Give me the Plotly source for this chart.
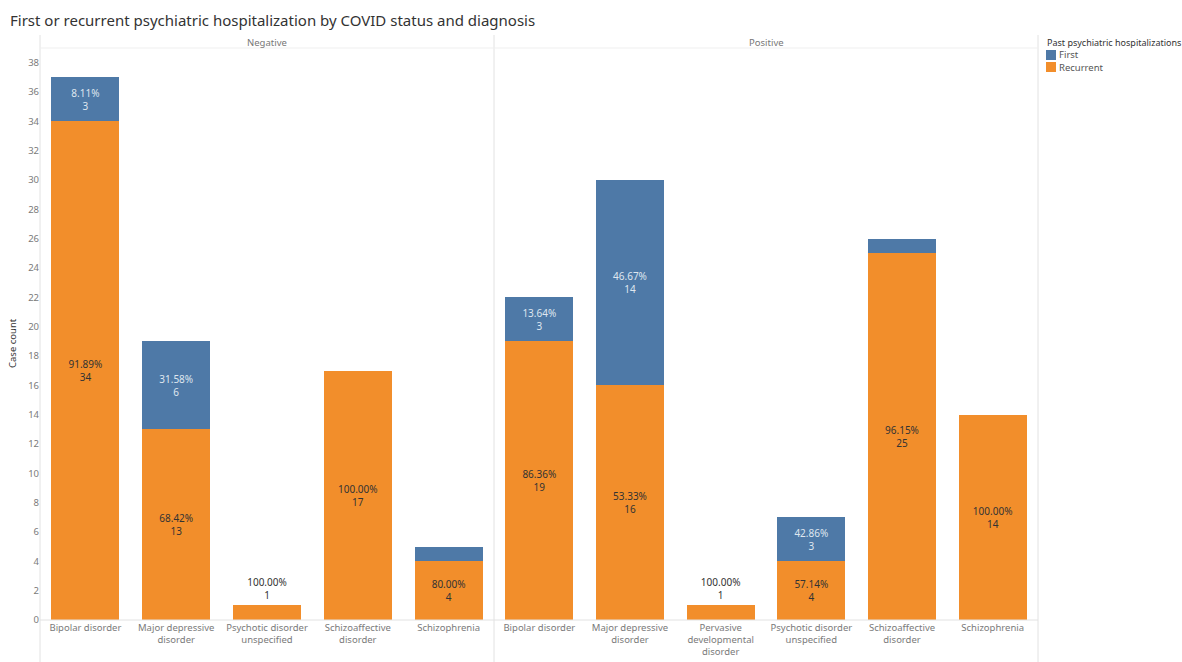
import plotly.graph_objects as go

# ---- data ----
neg_categories = ["Bipolar disorder", "Major depressive disorder", "Psychotic disorder unspecified",
                  "Schizoaffective disorder", "Schizophrenia"]
neg_ticklabels = ["Bipolar disorder", "Major depressive<br>disorder", "Psychotic disorder<br>unspecified",
                  "Schizoaffective<br>disorder", "Schizophrenia"]
neg_first = [3, 6, None, None, 1]
neg_recurrent = [34, 13, 1, 17, 4]

pos_categories = ["Bipolar disorder", "Major depressive disorder", "Pervasive developmental disorder",
                  "Psychotic disorder unspecified", "Schizoaffective disorder", "Schizophrenia"]
pos_ticklabels = ["Bipolar disorder", "Major depressive<br>disorder", "Pervasive<br>developmental<br>disorder",
                  "Psychotic disorder<br>unspecified", "Schizoaffective<br>disorder", "Schizophrenia"]
pos_first = [3, 14, None, 3, 1, None]
pos_recurrent = [19, 16, 1, 4, 25, 14]

panels = ["Negative", "Positive"]
legend_title = "Past psychiatric hospitalizations"
series_names = ["First", "Recurrent"]
y_ticks = list(range(0, 39, 2))

BLUE = "#4e79a7"
ORANGE = "#f28e2b"
FONT = "Noto Sans"

W, H = 1182, 662
L, R, T, B = 40, 144, 48, 42
PW = W - L - R
PH = H - T - B


def px_x(x):
    return (x - L) / PW


def px_y(y):
    return (H - B - y) / PH


def labels(vals, others, min_show=2):
    txt, pos = [], []
    for v, o in zip(vals, others):
        tot = (v or 0) + (o or 0)
        if not v:
            txt.append("")
            pos.append("none")
            continue
        pct = v / tot * 100
        if v >= min_show:
            txt.append(f"{pct:.2f}%<br>{v}")
            pos.append("inside")
        elif (o or 0) == 0:
            txt.append(f"{pct:.2f}%<br>{v}")
            pos.append("outside")
        else:
            txt.append("")
            pos.append("none")
    return txt, pos


fig = go.Figure()

for i, (cats, first, rec, xa) in enumerate([
        (neg_categories, neg_first, neg_recurrent, "x"),
        (pos_categories, pos_first, pos_recurrent, "x2")]):
    rt, rp = labels(rec, first)
    ft, fp = labels(first, rec)
    fig.add_trace(go.Bar(
        x=cats, y=rec, name=series_names[1], marker_color=ORANGE, marker_line_width=0,
        xaxis=xa, yaxis="y", showlegend=False,
        text=rt, textposition=rp, insidetextanchor="middle",
        textfont=dict(family=FONT, size=10, color="#333333"),
        outsidetextfont=dict(family=FONT, size=10, color="#333333"),
        constraintext="none", width=0.75, hoverinfo="skip"))
    fig.add_trace(go.Bar(
        x=cats, y=first, name=series_names[0], marker_color=BLUE, marker_line_width=0,
        xaxis=xa, yaxis="y", showlegend=False,
        text=ft, textposition=fp, insidetextanchor="middle",
        textfont=dict(family=FONT, size=10, color="#dfe6ef"),
        constraintext="none", width=0.75, hoverinfo="skip"))

split = px_x(494)

axis_common = dict(showgrid=False, zeroline=False, showline=False, ticks="", automargin=False,
                   tickfont=dict(family=FONT, size=9.5, color="#7a7a7a"), fixedrange=True)

fig.update_layout(
    width=W, height=H,
    margin=dict(l=L, r=R, t=T, b=B, autoexpand=False),
    paper_bgcolor="white", plot_bgcolor="white",
    barmode="stack",
    font=dict(family=FONT, color="#333333"),
    xaxis=dict(domain=[0, split], categoryorder="array", categoryarray=neg_categories,
               tickvals=neg_categories, ticktext=neg_ticklabels, **axis_common),
    xaxis2=dict(domain=[split, 1], categoryorder="array", categoryarray=pos_categories,
                tickvals=pos_categories, ticktext=pos_ticklabels, **axis_common),
    yaxis=dict(range=[0, 39], tickvals=y_ticks, **axis_common),
    showlegend=False,
)

# title
fig.add_annotation(text="First or recurrent psychiatric hospitalization by COVID status and diagnosis",
                   x=px_x(8), y=px_y(20), xref="paper", yref="paper", showarrow=False,
                   xanchor="left", yanchor="middle",
                   font=dict(family=FONT, size=15, color="#333333"))

# panel headers
for name, x0, x1 in [(panels[0], 0, split), (panels[1], split, 1)]:
    fig.add_annotation(text=name, x=(x0 + x1) / 2, y=px_y(42), xref="paper", yref="paper",
                       showarrow=False, font=dict(family=FONT, size=9.5, color="#777777"),
                       xanchor="center", yanchor="middle")

# y-axis title
fig.add_annotation(text="Case count", x=px_x(12), y=px_y(343), xref="paper", yref="paper",
                   showarrow=False, textangle=-90, font=dict(family=FONT, size=9.5, color="#333333"),
                   xanchor="center", yanchor="middle")

# legend (compact, Tableau style)
fig.add_annotation(text=legend_title, x=px_x(1045), y=px_y(43), xref="paper", yref="paper",
                   showarrow=False, xanchor="left", yanchor="middle",
                   font=dict(family=FONT, size=9, color="#333333"))
for k, (nm, col) in enumerate(zip(series_names, [BLUE, ORANGE])):
    yc = 55 + 12 * k
    fig.add_shape(type="rect", xref="paper", yref="paper",
                  x0=px_x(1046), x1=px_x(1056), y0=px_y(yc + 5), y1=px_y(yc - 5),
                  fillcolor=col, line=dict(width=0))
    fig.add_annotation(text=nm, x=px_x(1057), y=px_y(yc), xref="paper", yref="paper",
                       showarrow=False, xanchor="left", yanchor="middle",
                       font=dict(family=FONT, size=9.5, color="#555555"))

line_col = "#e2e2e2"
# vertical dividers
for xp in [0, split, 1]:
    fig.add_shape(type="line", xref="paper", yref="paper", x0=xp, x1=xp,
                  y0=px_y(H), y1=px_y(35), line=dict(color=line_col, width=1))
# header separator & baseline
fig.add_shape(type="line", xref="paper", yref="paper", x0=0, x1=1, y0=1, y1=1,
              line=dict(color="#efefef", width=1))
fig.add_shape(type="line", xref="paper", yref="paper", x0=0, x1=1, y0=0, y1=0,
              line=dict(color=line_col, width=1))

fig.write_html("out.html", config={"displayModeBar": False},
               post_script="document.body.style.margin='0';document.body.style.padding='0';")
